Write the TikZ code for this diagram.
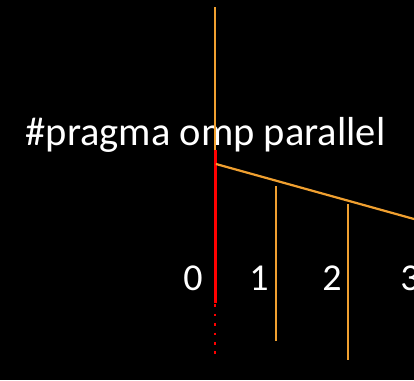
\documentclass[tikz,border=0pt]{standalone}
\usepackage{fontspec}
\setmainfont{Carlito}
\definecolor{threadorange}{RGB}{240,160,48}
\begin{document}
\begin{tikzpicture}[x=1pt,y=-1pt,
        thread/.style={threadorange, line width=2.2pt},
        master/.style={red, line width=3pt},
        label/.style={white, font=\fontsize{38}{38}\selectfont, anchor=base}]
        \fill[black] (0,0) rectangle (414,380);
        \useasboundingbox (0,0) rectangle (414,380);

        \coordinate (top) at (215,7);
        \coordinate (fork) at (215,150);
        \coordinate (forkend) at (215,303);
        \coordinate (dotend) at (215,360);
        \coordinate (split) at (216,164);
        \coordinate (edge) at (414,219);

        \node[label, font=\fontsize{40.5}{40.5}\selectfont] (pragma) at (205.5,145) {\#pragma omp parallel};
        \draw[thread] (top) -- (fork);
        \draw[master] (fork) -- (forkend);
        \draw[red, line width=2.6pt, dash pattern=on 2.6pt off 6.8pt] ([yshift=8]forkend) -- (dotend);
        \draw[thread] (split) -- (edge);

        \coordinate (t1top) at (276,186);
        \coordinate (t1end) at (276,341);
        \coordinate (t2top) at (348,204);
        \coordinate (t2end) at (348,360);
        \draw[thread] (t1top) -- (t1end);
        \draw[thread] (t2top) -- (t2end);

        \node[label] (id0) at (193,290) {0};
        \node[label] (id1) at (259,290) {1};
        \node[label] (id2) at (332,290) {2};
        \node[label] (id3) at (410,290) {3};
    \end{tikzpicture}
\end{document}
